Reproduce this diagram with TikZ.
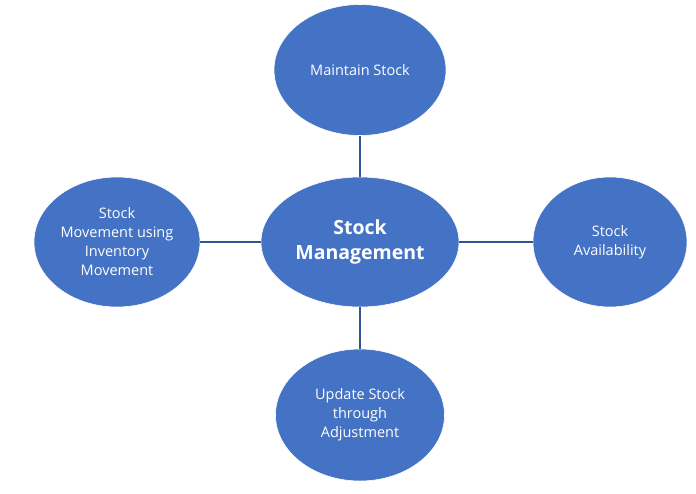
\documentclass[tikz,border=0pt]{standalone}
\usepackage{fontspec}
\setmainfont{Open Sans}
\usetikzlibrary{shapes.geometric}
\definecolor{obl}{HTML}{4472C4}
\definecolor{oline}{HTML}{2F5597}
\tikzset{
  bub/.style={ellipse, fill=obl, draw=white, line width=0.6pt, inner sep=0pt, text=white, align=center,
    font=\fontsize{14.5}{19}\selectfont},
  link/.style={draw=oline, line width=1.5pt}
}
\begin{document}
\begin{tikzpicture}[x=1pt,y=-1pt]
\useasboundingbox[fill=white] (0,0) rectangle (696,493);
\node[bub, minimum width=172pt, minimum height=131pt] (top) at (360,70) {Maintain Stock};
\node[bub, minimum width=198pt, minimum height=130pt, font=\fontsize{19.5}{25}\selectfont\bfseries] (mid) at (360,242) {\raisebox{-2pt}{Stock}\\\raisebox{-2pt}{Management}};
\node[bub, minimum width=166pt, minimum height=130pt] (left) at (117,242) {Stock\\Movement using\\Inventory\\Movement};
\node[bub, minimum width=154pt, minimum height=130pt] (right) at (610,242) {Stock\\Availability};
\node[bub, minimum width=169pt, minimum height=132pt] (bot) at (360,415) {Update Stock\\through\\Adjustment};
\draw[link] (top) -- (mid);
\draw[link] (mid) -- (bot);
\draw[link] (left) -- (mid);
\draw[link] (mid) -- (right);
\end{tikzpicture}
\end{document}
